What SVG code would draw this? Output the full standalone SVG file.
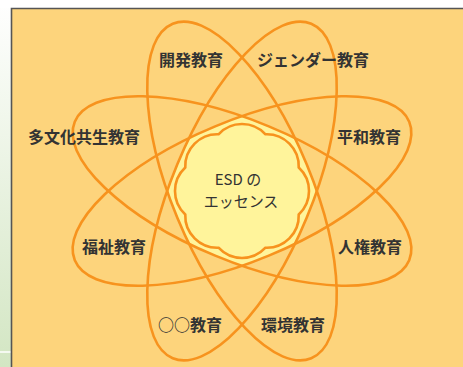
<svg xmlns="http://www.w3.org/2000/svg" width="463" height="367" viewBox="0 0 463 367">
<defs>
<linearGradient id="side" x1="0" y1="0" x2="0" y2="1">
<stop offset="0" stop-color="#ffffff"/>
<stop offset="1" stop-color="#d3e6c3"/>
</linearGradient>
<clipPath id="cA"><ellipse rx="181" ry="70" transform="translate(242,191) rotate(67.5)"/></clipPath>
<clipPath id="cB"><ellipse rx="181" ry="70" transform="translate(242,191) rotate(-67.5)"/></clipPath>
<clipPath id="cC"><ellipse rx="181" ry="70" transform="translate(242,191) rotate(22.5)"/></clipPath>
</defs>
<style>
.orb{fill:none;stroke:#f7931e;stroke-width:2.6}
.lbl{font-family:"Noto Sans CJK JP","Noto Sans",sans-serif;font-size:16px;font-weight:bold;fill:#333;text-anchor:middle}
.ctr{font-family:"Noto Sans CJK JP","Noto Sans",sans-serif;font-size:15px;fill:#333;text-anchor:middle}
</style>
<rect x="0" y="0" width="463" height="367" fill="url(#side)"/>
<rect x="0" y="0" width="463" height="8" fill="#ffffff"/>
<line x1="0" y1="352" x2="12" y2="352" stroke="#ffffff" stroke-width="1.5"/>
<rect x="12" y="9" width="451" height="358" fill="#fdd47c"/>
<path d="M11.5,367 V8.5 H463" fill="none" stroke="#555" stroke-width="1.6"/>
<g id="core">
<g clip-path="url(#cA)"><g clip-path="url(#cB)"><g clip-path="url(#cC)">
<ellipse rx="181" ry="70" transform="translate(242,191) rotate(-22.5)" fill="#fff49b"/>
</g></g></g>
<path d="M298.73,214.5 A32,32 0 0 1 265.5,247.73 A32,32 0 0 1 218.5,247.73 A32,32 0 0 1 185.27,214.5 A32,32 0 0 1 185.27,167.5 A32,32 0 0 1 218.5,134.27 A32,32 0 0 1 265.5,134.27 A32,32 0 0 1 298.73,167.5 A32,32 0 0 1 298.73,214.5 Z" fill="#fff49b" stroke="#f7931e" stroke-width="2.6"/>
</g>
<g id="connectors">
<ellipse class="orb" rx="181" ry="70" transform="translate(242,191) rotate(67.5)"/>
<ellipse class="orb" rx="181" ry="70" transform="translate(242,191) rotate(-67.5)"/>
<ellipse class="orb" rx="181" ry="70" transform="translate(242,191) rotate(22.5)"/>
<ellipse class="orb" rx="181" ry="70" transform="translate(242,191) rotate(-22.5)"/>
</g>
<g id="center"><text class="ctr" x="238" y="185">ESD の</text><text class="ctr" x="241" y="207">エッセンス</text></g>
<g id="n1"><text class="lbl" x="191" y="66">開発教育</text></g>
<g id="n2"><text class="lbl" x="313" y="66">ジェンダー教育</text></g>
<g id="n3"><text class="lbl" x="84" y="143">多文化共生教育</text></g>
<g id="n4"><text class="lbl" x="369" y="143">平和教育</text></g>
<g id="n5"><text class="lbl" x="114" y="253">福祉教育</text></g>
<g id="n6"><text class="lbl" x="370" y="253">人権教育</text></g>
<g id="n7"><text class="lbl" x="190" y="331">○○教育</text></g>
<g id="n8"><text class="lbl" x="293" y="331">環境教育</text></g>
</svg>
